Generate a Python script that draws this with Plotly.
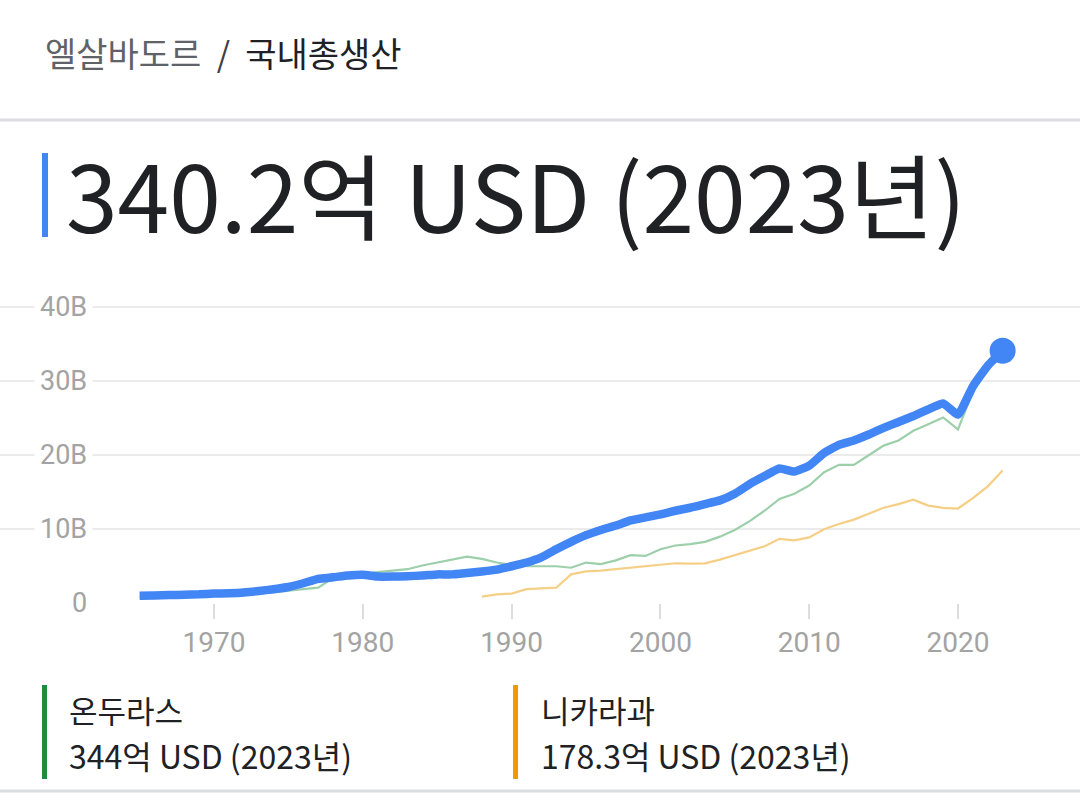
import plotly.graph_objects as go

W, H = 1080, 809

# ---- data (billions USD) ----
years_sv = list(range(1965, 2024))
el_salvador = [0.9, 0.95, 1.0, 1.05, 1.1, 1.2, 1.25, 1.35, 1.55, 1.8,
               2.1, 2.6, 3.2, 3.4, 3.65, 3.75, 3.5, 3.5, 3.55, 3.65,
               3.8, 3.8, 4.0, 4.2, 4.45, 4.9, 5.4, 6.1, 7.2, 8.2,
               9.1, 9.8, 10.4, 11.1, 11.5, 11.9, 12.4, 12.8, 13.3, 13.8,
               14.7, 16.0, 17.1, 18.1, 17.7, 18.5, 20.2, 21.3, 21.9, 22.7,
               23.6, 24.4, 25.2, 26.1, 26.9, 25.4, 29.2, 32.0, 34.02]
years_hn = list(range(1965, 2024))
honduras = [0.75, 0.8, 0.85, 0.9, 0.95, 1.0, 1.05, 1.1, 1.2, 1.4,
            1.6, 1.75, 2.0, 3.3, 3.75, 3.9, 4.1, 4.3, 4.5, 5.0,
            5.4, 5.7, 6.2, 5.9, 5.4, 5.1, 4.9, 4.9, 4.9, 4.7,
            5.4, 5.2, 5.7, 6.4, 6.3, 7.2, 7.7, 7.9, 8.2, 8.9,
            9.8, 11.0, 12.4, 14.0, 14.7, 15.8, 17.6, 18.6, 18.6, 19.9,
            21.2, 21.9, 23.2, 24.1, 25.0, 23.4, 28.5, 31.7, 34.4]
years_ni = list(range(1988, 2024))
nicaragua = [0.8, 1.1, 1.2, 1.8, 1.9, 2.0, 3.8,
             4.2, 4.3, 4.5, 4.75, 4.9, 5.15, 5.3, 5.25, 5.3, 5.8,
             6.4, 6.9, 7.6, 8.6, 8.4, 8.8, 9.9, 10.6, 11.2, 12.0,
             12.8, 13.3, 13.9, 13.1, 12.8, 12.7, 14.1, 15.7, 17.83]
x_ticks = [1970, 1980, 1990, 2000, 2010, 2020]
y_ticks = [0, 10, 20, 30, 40]
y_tick_labels = ["0", "10B", "20B", "30B", "40B"]

breadcrumb_country = "엘살바도르"
breadcrumb_metric = "국내총생산"
headline = "340.2억 USD (2023년)"
legend_names = ["온두라스", "니카라과"]
legend_values = ["344억 USD (2023년)", "178.3억 USD (2023년)"]

BLUE = "#4285f4"
GREEN_LINE = "#9dcfab"
ORANGE_LINE = "#f6cf86"
GREEN_BAR = "#1e8e3e"
ORANGE_BAR = "#f29900"
GRID = "#ebebeb"
LABEL = "#a3a3a3"
KFONT = "Noto Sans CJK KR"


def px(x):
    return x / W


def py(y):
    return 1 - y / H


# plot area geometry (pixels)
y_zero_px = 602.5
px_per_b = 7.4
plot_top_px = 289.5
ymax = (y_zero_px - plot_top_px) / px_per_b
# x: 1970 at 214 px, 2020 at 958 px
ppy = (958 - 214) / 50.0
xmin = 1970 - 214 / ppy
xmax = 2020 + (W - 958) / ppy

fig = go.Figure()
fig.add_trace(go.Scatter(x=years_hn, y=honduras, mode="lines",
                         line=dict(color=GREEN_LINE, width=2.2), hoverinfo="skip"))
fig.add_trace(go.Scatter(x=years_ni, y=nicaragua, mode="lines",
                         line=dict(color=ORANGE_LINE, width=2.2), hoverinfo="skip"))
fig.add_trace(go.Scatter(x=years_sv, y=el_salvador, mode="lines",
                         line=dict(color=BLUE, width=8.5, shape="spline", smoothing=0.4),
                         hoverinfo="skip"))
fig.add_trace(go.Scatter(x=[years_sv[-1]], y=[el_salvador[-1]], mode="markers",
                         marker=dict(color=BLUE, size=26), cliponaxis=False,
                         hoverinfo="skip"))

annotations = []
# y tick labels with white background over the gridlines
for v, lab in zip(y_ticks, y_tick_labels):
    annotations.append(dict(x=px(93), xref="paper", y=v, yref="y", text=lab,
                            showarrow=False, xanchor="right", yanchor="middle",
                            bgcolor="white", borderpad=5,
                            font=dict(family="Roboto", size=27, color=LABEL)))

# header
annotations.append(dict(x=px(43), y=py(52), xref="paper", yref="paper",
                        text=f"<span style='color:#5f6368'>{breadcrumb_country}</span>"
                             f"<span style='color:#3c4043'>  /  </span>"
                             f"<span style='color:#202124'>{breadcrumb_metric}</span>",
                        showarrow=False, xanchor="left", yanchor="middle",
                        font=dict(family=KFONT, size=34)))
# headline
annotations.append(dict(x=px(64), y=py(193), xref="paper", yref="paper",
                        text=headline, showarrow=False, xanchor="left", yanchor="middle",
                        font=dict(family=KFONT, size=93, color="#202124")))
# legend
for i, (nm, val) in enumerate(zip(legend_names, legend_values)):
    x0 = 67 if i == 0 else 539
    annotations.append(dict(x=px(x0), y=py(709), xref="paper", yref="paper",
                            text=nm, showarrow=False, xanchor="left", yanchor="middle",
                            font=dict(family=KFONT, size=31, color="#202124")))
    annotations.append(dict(x=px(x0), y=py(755), xref="paper", yref="paper",
                            text=val, showarrow=False, xanchor="left", yanchor="middle",
                            font=dict(family=KFONT, size=32, color="#202124")))

shapes = [
    # top divider
    dict(type="line", xref="paper", yref="paper", x0=0, x1=1, y0=py(120), y1=py(120),
         line=dict(color="#dadce0", width=3)),
    # bottom divider
    dict(type="line", xref="paper", yref="paper", x0=0, x1=1, y0=py(791), y1=py(791),
         line=dict(color="#dadce0", width=3)),
    # headline blue bar
    dict(type="rect", xref="paper", yref="paper", x0=px(42), x1=px(48),
         y0=py(237), y1=py(153), fillcolor=BLUE, line=dict(width=0)),
    # legend bars
    dict(type="rect", xref="paper", yref="paper", x0=px(42), x1=px(47),
         y0=py(779), y1=py(685), fillcolor=GREEN_BAR, line=dict(width=0)),
    dict(type="rect", xref="paper", yref="paper", x0=px(513), x1=px(518),
         y0=py(779), y1=py(685), fillcolor=ORANGE_BAR, line=dict(width=0)),
]

fig.update_layout(
    width=W, height=H,
    margin=dict(l=0, r=0, t=0, b=0, pad=0),
    paper_bgcolor="white", plot_bgcolor="white",
    showlegend=False,
    annotations=annotations,
    shapes=shapes,
    xaxis=dict(range=[xmin, xmax], domain=[0, 1], tickvals=x_ticks,
               ticktext=[str(t) for t in x_ticks],
               showgrid=False, zeroline=False, showline=False,
               ticks="outside", ticklen=15, tickwidth=2, tickcolor="#dddddd",
               tickfont=dict(family="Roboto", size=28, color=LABEL),
               fixedrange=True),
    yaxis=dict(range=[0, ymax], domain=[py(y_zero_px), py(plot_top_px)],
               tickvals=y_ticks, showticklabels=False, showgrid=True,
               gridcolor=GRID, gridwidth=2, zeroline=False, showline=False,
               fixedrange=True),
)

fig.write_html("out.html", config={"displayModeBar": False, "staticPlot": True},
               post_script="document.body.style.margin='0';document.body.style.overflow='hidden';")
